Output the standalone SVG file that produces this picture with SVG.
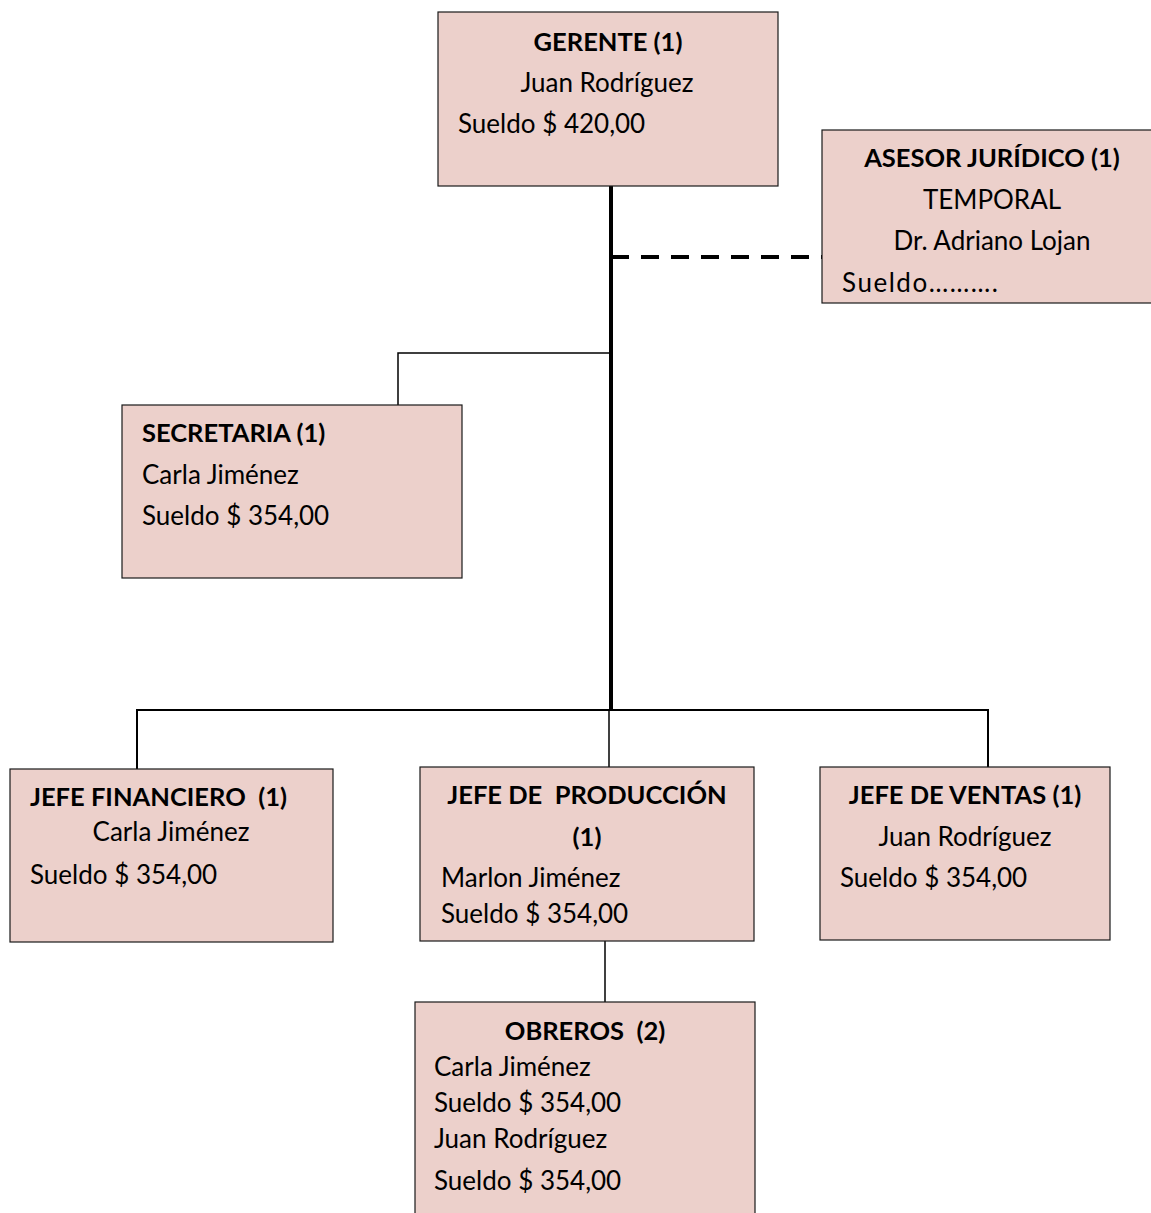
<svg xmlns="http://www.w3.org/2000/svg" width="1151" height="1213" viewBox="0 0 1151 1213">
  <style>
    .box { fill: #ECD0CB; stroke: #1a1a1a; stroke-width: 1.2; }
    text { font-family: Lato, "Open Sans", sans-serif; font-size: 26px; fill: #000; white-space: pre; }
    .h { font-weight: bold; font-size: 25.5px; }
    .c { text-anchor: middle; }
    .trunk { stroke: #000; stroke-width: 4; fill: none; }
    .link { stroke: #000; stroke-width: 2; fill: none; }
    .thin { stroke: #000; stroke-width: 1.5; fill: none; }
    .dash { stroke: #000; stroke-width: 4; stroke-dasharray: 18 12; fill: none; }
  </style>

  <g id="connectors">
    <line class="trunk" x1="611" y1="186" x2="611" y2="711"/>
    <line class="dash" x1="611" y1="257" x2="822" y2="257"/>
    <polyline class="thin" points="611,353 398,353 398,405"/>
    <polyline class="link" points="137,769 137,710 988,710 988,767"/>
    <line class="thin" x1="609" y1="710" x2="609" y2="767"/>
    <line class="thin" x1="605" y1="941" x2="605" y2="1002"/>
  </g>

  <g id="gerente">
    <rect class="box" x="438" y="12" width="340" height="174"/>
    <text class="h c" x="608" y="51">GERENTE (1)</text>
    <text class="c" x="607" y="92">Juan Rodríguez</text>
    <text x="458" y="133">Sueldo $ 420,00</text>
  </g>

  <g id="asesor-juridico">
    <rect class="box" x="822" y="130" width="335" height="173"/>
    <text class="h c" x="992" y="167">ASESOR JURÍDICO (1)</text>
    <text class="c" x="992" y="209">TEMPORAL</text>
    <text class="c" x="992" y="250">Dr. Adriano Lojan</text>
    <text x="842" y="292" textLength="156">Sueldo……….</text>
  </g>

  <g id="secretaria">
    <rect class="box" x="122" y="405" width="340" height="173"/>
    <text class="h" x="142" y="442">SECRETARIA (1)</text>
    <text x="142" y="484">Carla Jiménez</text>
    <text x="142" y="525">Sueldo $ 354,00</text>
  </g>

  <g id="jefe-financiero">
    <rect class="box" x="10" y="769" width="323" height="173"/>
    <text class="h" x="30" y="806">JEFE FINANCIERO  (1)</text>
    <text class="c" x="171" y="841">Carla Jiménez</text>
    <text x="30" y="884">Sueldo $ 354,00</text>
  </g>

  <g id="jefe-produccion">
    <rect class="box" x="420" y="767" width="334" height="174"/>
    <text class="h c" x="587" y="804">JEFE DE  PRODUCCIÓN</text>
    <text class="h c" x="587" y="846">(1)</text>
    <text x="441" y="887">Marlon Jiménez</text>
    <text x="441" y="923">Sueldo $ 354,00</text>
  </g>

  <g id="jefe-ventas">
    <rect class="box" x="820" y="767" width="290" height="173"/>
    <text class="h c" x="965" y="804">JEFE DE VENTAS (1)</text>
    <text class="c" x="965" y="846">Juan Rodríguez</text>
    <text x="840" y="887">Sueldo $ 354,00</text>
  </g>

  <g id="obreros">
    <rect class="box" x="415" y="1002" width="340" height="220"/>
    <text class="h c" x="585" y="1040">OBREROS  (2)</text>
    <text x="434" y="1076">Carla Jiménez</text>
    <text x="434" y="1112">Sueldo $ 354,00</text>
    <text x="434" y="1148">Juan Rodríguez</text>
    <text x="434" y="1190">Sueldo $ 354,00</text>
  </g>
</svg>
